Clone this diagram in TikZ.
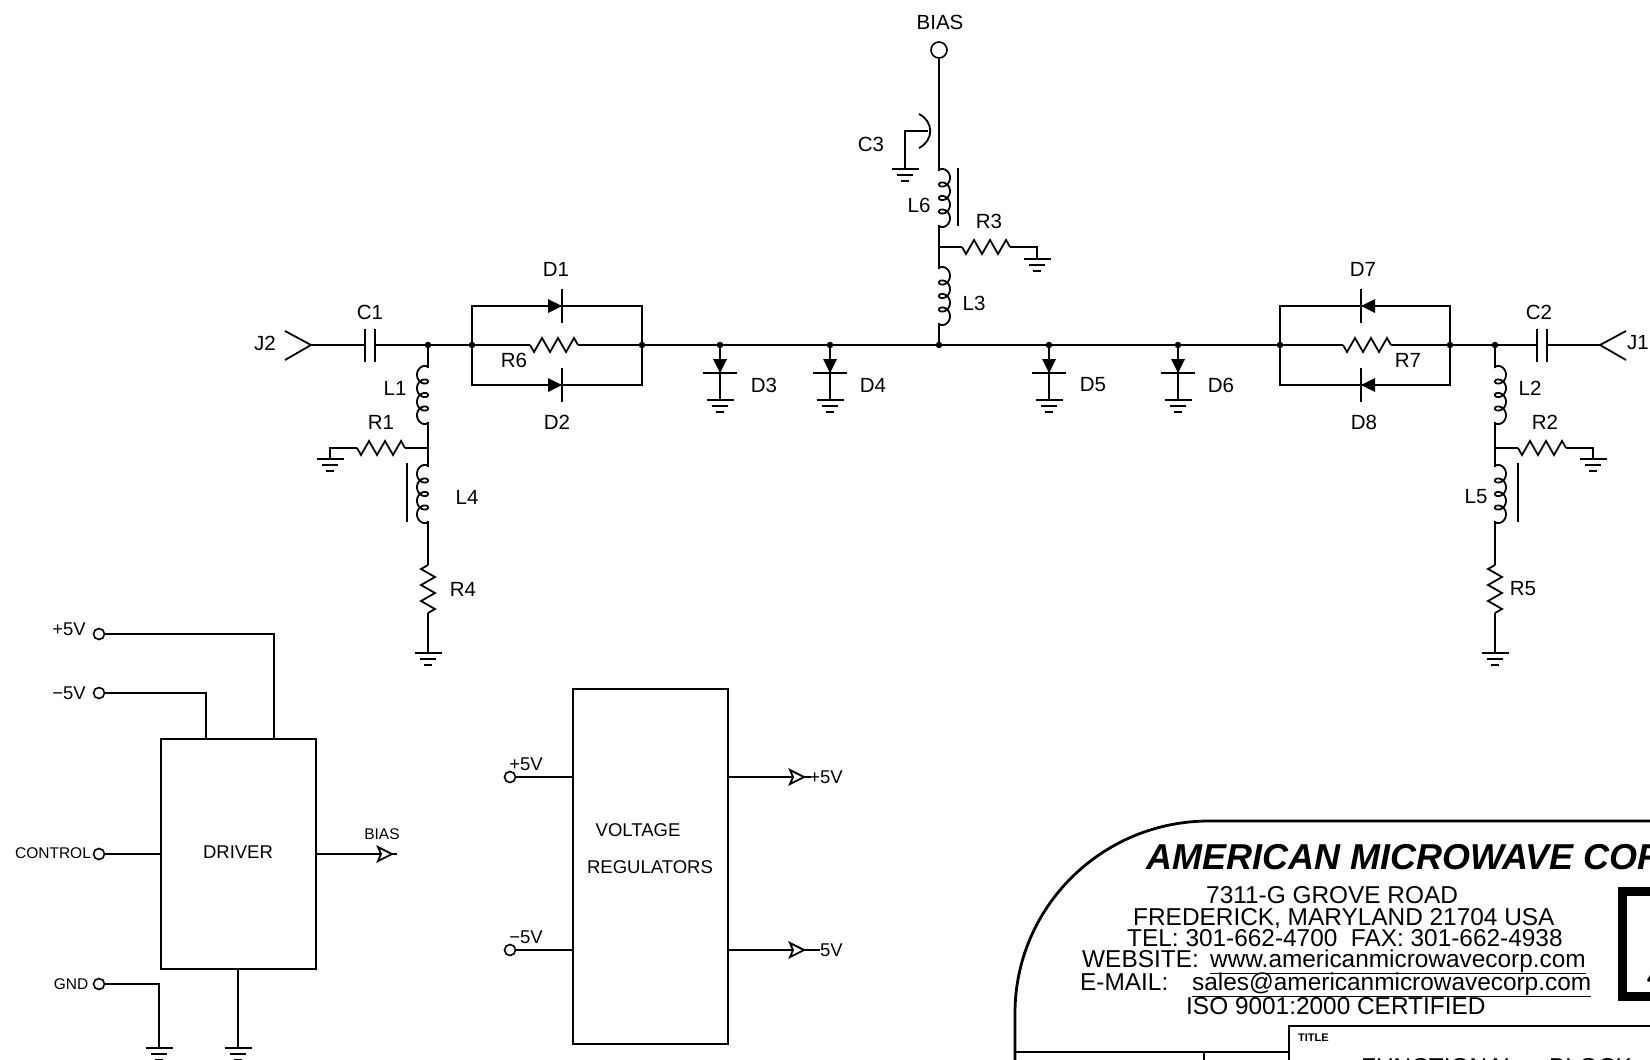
\documentclass[tikz,border=0pt]{standalone}
\usepackage{fontspec}
\setmainfont{Liberation Sans}
\usetikzlibrary{positioning, arrows.meta}
\tikzset{
  wire/.style={line width=1.8pt},
  dot/.style={circle, fill=black, inner sep=0pt, minimum size=6.5pt},
  term/.style={circle, draw, line width=1.6pt, fill=white, inner sep=0pt, minimum size=11pt},
  blockbox/.style={draw, line width=1.8pt, anchor=north west, inner sep=0pt},
  lbl/.style={inner sep=0pt, font=\fontsize{20.5}{24}\selectfont},
  blocktext/.style={inner sep=0pt, font=\fontsize{18.5}{22}\selectfont},
  small/.style={inner sep=0pt, font=\fontsize{15.5}{19}\selectfont},
  addr/.style={inner sep=0pt, anchor=base west, font=\fontsize{24.4}{28}\selectfont},
  pics/gnd/.style={code={
    \draw[wire] (-13.5,0)--(13.5,0); \draw[wire] (-8,6)--(8,6); \draw[wire] (-4,12)--(4,12);}},
  pics/rzig/.style={code={
    \draw[wire] (0,0)--(4,7)--(12,-7)--(20,7)--(28,-7)--(36,7)--(44,-7)--(48,0);}},
  pics/diode/.style={code={
    \fill (-14,-7)--(0,0)--(-14,7)--cycle; \draw[wire] (0,-17)--(0,17);}},
  pics/opentri/.style={code={
    \draw[wire, fill=white] (0,-7)--(14,0)--(0,7)--(3,0)--cycle;}},
}
% coil between (#1,#2) and (#1,#2+54), #3 = side of the bulge
\newcommand{\coil}[3]{\draw[wire] plot[domain=0:1440, samples=145, smooth]
  ({#1+#3*5.5*(1-cos(\x))},{#2+0.0375*\x-5*sin(\x)});}

\begin{document}
\begin{tikzpicture}[x=1pt, y=-1pt]
        \useasboundingbox (0,0) rectangle (1650,1060);
        \clip (0,0) rectangle (1650,1060);
        % main line
        \coordinate (j2) at (311,345);
        \coordinate (c1a) at (365,345);
        \coordinate (c1b) at (375,345);
        \node[dot] (n1) at (428,345) {};
        \node[dot] (n2) at (472,345) {};
        \node[dot] (n3) at (642,345) {};
        \node[dot] (n4) at (720,345) {};
        \node[dot] (n5) at (830,345) {};
        \node[dot] (n6) at (939,345) {};
        \node[dot] (n7) at (1049,345) {};
        \node[dot] (n8) at (1178,345) {};
        \node[dot] (n9) at (1280,345) {};
        \node[dot] (n10) at (1450,345) {};
        \node[dot] (n11) at (1495,345) {};
        \coordinate (c2a) at (1537,345);
        \coordinate (c2b) at (1547,345);
        \coordinate (j1) at (1600,345);
        \coordinate (r6a) at (530,345);
        \coordinate (r6b) at (578,345);
        \coordinate (r7a) at (1343,345);
        \coordinate (r7b) at (1391,345);
        \draw[wire] (285,331)--(j2)--(285,360);
        \draw[wire] (j2)--(c1a); \draw[wire] (365,329)--(365,362); \draw[wire] (375,329)--(375,362);
        \draw[wire] (c1b)--(n1)--(n2)--(r6a); \draw[wire] (r6b)--(n3)--(n4)--(n5)--(n6)--(n7)--(n8)--(n9)--(r7a);
        \draw[wire] (r7b)--(n10)--(n11)--(c2a); \draw[wire] (1537,329)--(1537,362); \draw[wire] (1547,329)--(1547,362);
        \draw[wire] (c2b)--(j1); \draw[wire] (1626,331)--(j1)--(1626,360);
        \pic at (r6a) {rzig};
        \pic at (r7a) {rzig};
        % parallel diodes
        \draw[wire] (n2)--(472,306)--(642,306)--(n3)--(642,385)--(472,385)--(n2);
        \draw[wire] (n9)--(1280,306)--(1450,306)--(n10)--(1450,385)--(1280,385)--(n9);
        \pic at (562,306) {diode};
        \pic at (562,385) {diode};
        \pic[rotate=180] at (1361,306) {diode};
        \pic[rotate=180] at (1361,385) {diode};
        % diodes to ground
        \foreach \name/\px in {n4/720, n5/830, n7/1049, n8/1178}{
          \pic[rotate=-90] at (\px,373) {diode};
          \draw[wire] (\name)--(\px,400);
          \pic at (\px,400) {gnd};
        }
        % left branch
        \coordinate (l1a) at (428,368);
        \coordinate (l1b) at (428,422);
        \coordinate (m1) at (428,448);
        \coordinate (l4a) at (428,467);
        \coordinate (l4b) at (428,521);
        \coordinate (r4a) at (428,565);
        \coordinate (r4b) at (428,613);
        \coordinate (g4) at (428,653);
        \coordinate (r1a) at (357,448);
        \coordinate (r1b) at (405,448);
        \coordinate (g1) at (330,459);
        \draw[wire] (n1)--(l1a); \coil{428}{368}{-1}
        \draw[wire] (l1b)--(m1)--(l4a); \coil{428}{467}{-1}
        \draw[wire] (407,463)--(407,522);
        \draw[wire] (l4b)--(r4a); \pic[rotate=-90] at (r4a) {rzig};
        \draw[wire] (r4b)--(g4); \pic at (g4) {gnd};
        \draw[wire] (m1)--(r1b); \pic at (r1a) {rzig};
        \draw[wire] (r1a)--(330,448)--(g1); \pic at (g1) {gnd};
        % right branch
        \coordinate (l2a) at (1495,368);
        \coordinate (l2b) at (1495,422);
        \coordinate (m2) at (1495,448);
        \coordinate (l5a) at (1495,467);
        \coordinate (l5b) at (1495,521);
        \coordinate (r5a) at (1495,565);
        \coordinate (r5b) at (1495,613);
        \coordinate (g5) at (1495,653);
        \coordinate (r2a) at (1518,448);
        \coordinate (r2b) at (1566,448);
        \coordinate (g2) at (1593,459);
        \draw[wire] (n11)--(l2a); \coil{1495}{368}{1}
        \draw[wire] (l2b)--(m2)--(l5a); \coil{1495}{467}{1}
        \draw[wire] (1518,463)--(1518,522);
        \draw[wire] (l5b)--(r5a); \pic[rotate=-90] at (r5a) {rzig};
        \draw[wire] (r5b)--(g5); \pic at (g5) {gnd};
        \draw[wire] (m2)--(r2a); \pic at (r2a) {rzig};
        \draw[wire] (r2b)--(1593,448)--(g2); \pic at (g2) {gnd};
        % bias branch
        \node[term, minimum size=16pt] (bias) at (939,50) {};
        \coordinate (l6a) at (939,171);
        \coordinate (l6b) at (939,225);
        \coordinate (m3) at (939,247);
        \coordinate (l3a) at (939,269);
        \coordinate (l3b) at (939,323);
        \coordinate (r3a) at (962,247);
        \coordinate (r3b) at (1010,247);
        \coordinate (g3) at (1037,259);
        \coordinate (g6) at (905,169);
        \draw[wire] (bias)--(l6a); \coil{939}{171}{1}
        \draw[wire] (l6b)--(m3)--(l3a); \coil{939}{269}{1}
        \draw[wire] (l3b)--(n6);
        \draw[wire] (958,168)--(958,226);
        \draw[wire] (m3)--(r3a); \pic at (r3a) {rzig};
        \draw[wire] (r3b)--(1037,247)--(g3); \pic at (g3) {gnd};
        \draw[wire] (919,114) .. controls (934,122) and (934,140) .. (919,148);
        \draw[wire] (928,131)--(905,131)--(g6); \pic at (g6) {gnd};
        % labels
        \node[lbl] (tbias) at (940,22) {BIAS};
        \node[lbl] (tc3) at (871,144) {C3};
        \node[lbl] (tl6) at (919,205) {L6};
        \node[lbl] (tr3) at (989,221) {R3};
        \node[lbl] (tl3) at (974,303) {L3};
        \node[lbl] (tj2) at (265,343) {J2};
        \node[lbl] (tc1) at (370,312) {C1};
        \node[lbl] (tl1) at (395,388) {L1};
        \node[lbl] (tr1) at (381,422) {R1};
        \node[lbl] (tl4) at (467,497) {L4};
        \node[lbl] (tr4) at (463,589) {R4};
        \node[lbl] (tr6) at (514,360) {R6};
        \node[lbl] (td1) at (556,269) {D1};
        \node[lbl] (td2) at (557,422) {D2};
        \node[lbl] (td3) at (764,385) {D3};
        \node[lbl] (td4) at (873,385) {D4};
        \node[lbl] (td5) at (1093,385) {D5};
        \node[lbl] (td6) at (1221,385) {D6};
        \node[lbl] (td7) at (1363,269) {D7};
        \node[lbl] (td8) at (1364,422) {D8};
        \node[lbl] (tr7) at (1408,360) {R7};
        \node[lbl] (tc2) at (1539,312) {C2};
        \node[lbl] (tj1) at (1638,343) {J1};
        \node[lbl] (tl2) at (1530,388) {L2};
        \node[lbl] (tr2) at (1545,422) {R2};
        \node[lbl] (tl5) at (1476,497) {L5};
        \node[lbl] (tr5) at (1523,589) {R5};
        % driver block
        \node[blockbox, minimum width=155pt, minimum height=230pt] (driver) at (160,738) {};
        \node[blocktext] (tdriver) at (238,852) {DRIVER};
        \node[term] (p5) at (99,634) {};
        \node[term] (m5) at (99,693) {};
        \node[term] (ctrl) at (99,854) {};
        \node[term] (gnd) at (99,984) {};
        \coordinate (g7) at (159,1048);
        \coordinate (g8) at (238,1048);
        \coordinate (bo) at (378,854);
        \coordinate (bt) at (397,854);
        \draw[wire] (p5)--(274,634)--(274,738);
        \draw[wire] (m5)--(206,693)--(206,738);
        \draw[wire] (ctrl)--(160,854);
        \draw[wire] (gnd)--(159,984)--(g7); \pic at (g7) {gnd};
        \draw[wire] (238,968)--(g8); \pic at (g8) {gnd};
        \draw[wire] (315,854)--(bo)--(bt); \pic at (bo) {opentri};
        \node[blocktext] (tp5) at (69,629) {+5V};
        \node[blocktext] (tm5) at (69,693) {\textminus 5V};
        \node[small] (tctrl) at (53,853) {CONTROL};
        \node[small] (tgnd) at (71,984) {GND};
        \node[small] (tb) at (382,834) {BIAS};
        % voltage regulators
        \node[blockbox, minimum width=155pt, minimum height=355pt] (reg) at (572,688) {};
        \node[blocktext] (tvolt) at (638,830) {VOLTAGE};
        \node[blocktext] (treg) at (650,867) {REGULATORS};
        \node[term] (ip) at (510,777) {};
        \node[term] (im) at (510,950) {};
        \coordinate (op) at (790,777);
        \coordinate (om) at (790,950);
        \draw[wire] (ip)--(572,777);
        \draw[wire] (im)--(572,950);
        \draw[wire] (727,777)--(op)--(811,777); \pic at (op) {opentri};
        \draw[wire] (727,950)--(om)--(820,950); \pic at (om) {opentri};
        \node[blocktext] (tip) at (526,764) {+5V};
        \node[blocktext] (tim) at (526,937) {\textminus 5V};
        \node[blocktext, anchor=east] (top) at (843,777) {+5V};
        \node[blocktext, anchor=east] (tom) at (843,950) {5V};
        % title block
        \draw[line width=2.8pt] (1015,1060)--(1015,1013) .. controls (1015,907) and (1102,821) .. (1209,821)--(1650,821);
        \draw[line width=1.8pt] (1015,1052)--(1289,1052);
        \draw[line width=1.8pt] (1204,1052)--(1204,1060);
        \draw[line width=1.8pt] (1289,1060)--(1289,1026)--(1650,1026);
        \draw[line width=9pt] (1655,891.5)--(1622,891.5)--(1622,996.5)--(1655,996.5);
        \node[inner sep=0pt, anchor=base west, font=\fontsize{36}{40}\selectfont\bfseries\itshape] (tcorp) at (1146,869) {AMERICAN MICROWAVE COR};
        \node[addr] (ta1) at (1206,903) {7311-G GROVE ROAD};
        \node[addr] (ta2) at (1133,925) {FREDERICK, MARYLAND 21704 USA};
        \node[addr] (ta3) at (1127,946) {TEL: 301-662-4700~~FAX: 301-662-4938};
        \node[addr] (ta4) at (1082,967) {WEBSITE:};
        \node[addr] (ta5) at (1210,967) {\underline{www.americanmicrowavecorp.com}};
        \node[addr] (ta6) at (1080,990) {E-MAIL:};
        \node[addr] (ta7) at (1192,990) {\underline{sales@americanmicrowavecorp.com}};
        \node[addr] (ta8) at (1186,1014) {ISO 9001:2000 CERTIFIED};
        \node[inner sep=0pt, anchor=base west, font=\fontsize{11}{13}\selectfont\bfseries] (ttitle) at (1298,1041) {TITLE};
        \node[addr] (tfunc) at (1361,1075) {FUNCTIONAL};
        \node[addr] (tblock) at (1549,1075) {BLOCK};
        \node[addr, font=\fontsize{24}{28}\selectfont\bfseries] (tfour) at (1647,985) {4};
    \end{tikzpicture}
\end{document}
